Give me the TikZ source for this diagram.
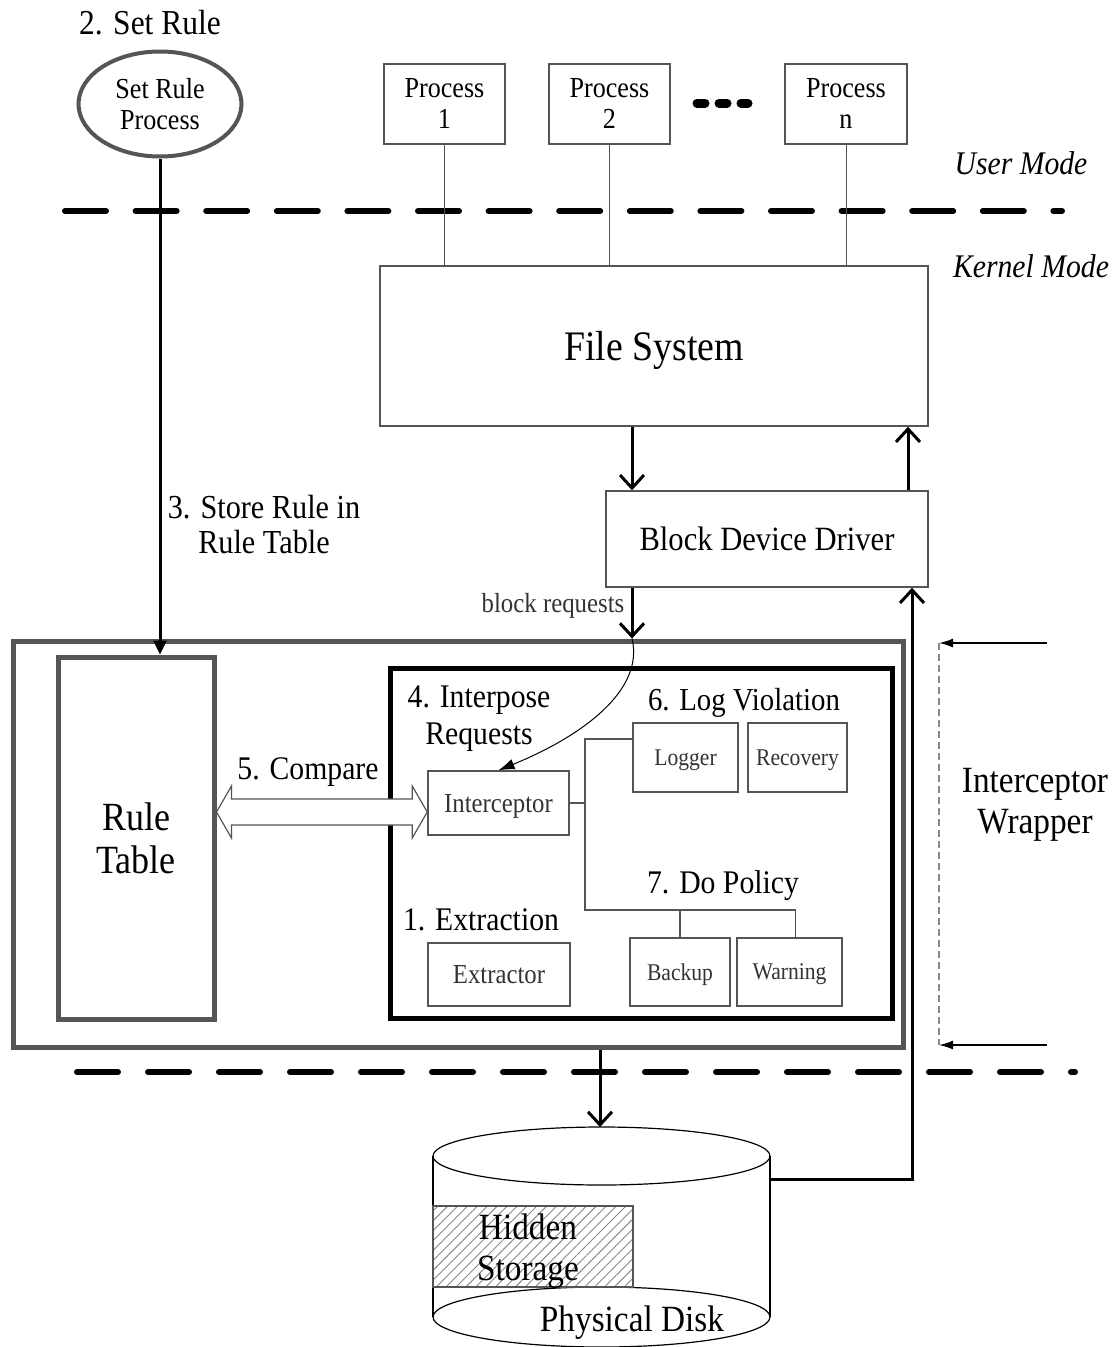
\documentclass[tikz,border=0pt]{standalone}
\usepackage{fontspec}
\setmainfont{Liberation Serif}[FakeStretch=0.9]
\usetikzlibrary{shapes.geometric,arrows.meta,patterns.meta,calc}
\newcommand\myfs[2]{\fontsize{#1}{#2}\selectfont}
\definecolor{boxc}{HTML}{555555}
\definecolor{txtc}{HTML}{333333}
\definecolor{hatchc}{HTML}{888888}
\begin{document}
\begin{tikzpicture}[x=1pt,y=-1pt,
  box/.style={draw=boxc, line width=1.5pt, inner sep=0pt, rectangle},
  onel/.style={text depth=0pt},
  lbl/.style={inner sep=0pt, align=center},
  thk/.style={line width=3pt},
  barb/.style={thk, -{Straight Barb[length=13pt,width=24pt]}},
  modeline/.style={line width=6pt, line cap=round},
  thin/.style={line width=1pt, draw=boxc}]
\useasboundingbox (0,0) rectangle (1115,1347);
\fill[white] (0,0) rectangle (1115,1347);

% helper coordinates
\coordinate (ax1) at (632,0);
\coordinate (ax2) at (908,0);
\coordinate (ax3) at (600,0);
\coordinate (ax4) at (912,0);
\coordinate (yc) at (0,812);

% mode lines
\coordinate (d1a) at (65,211);
\coordinate (d1b) at (1062,211);
\coordinate (d2a) at (77,1072);
\coordinate (d2b) at (1075,1072);
\draw[modeline, dash pattern=on 41pt off 29.6pt] (d1a) -- (d1b);
\draw[modeline, dash pattern=on 41pt off 30pt] (d2a) -- (d2b);

\node[lbl, font=\myfs{35}{38}] (t2) at (150,23) {2. Set Rule};
\node[ellipse, draw=boxc, line width=4pt, minimum width=163pt, minimum height=105pt, inner sep=0pt, align=center, font=\myfs{29}{31}] (srp) at (160,104) {Set Rule\\Process};

% processes
\node[box, minimum width=121pt, minimum height=80pt, align=center, font=\myfs{29}{31}] (p1) at (444.5,104) {Process\\1};
\node[box, minimum width=121pt, minimum height=80pt, align=center, font=\myfs{29}{31}] (p2) at (609.5,104) {Process\\2};
\node[box, minimum width=122pt, minimum height=80pt, align=center, font=\myfs{29}{31}] (pn) at (846,104) {Process\\n};
\coordinate (e1a) at (697,103); \coordinate (e1b) at (705,103);
\coordinate (e2a) at (719,103); \coordinate (e2b) at (727,103);
\coordinate (e3a) at (741,103); \coordinate (e3b) at (748,103);
\draw[line width=9pt, line cap=round] (e1a) -- (e1b) (e2a) -- (e2b) (e3a) -- (e3b);

\node[lbl, font=\myfs{33}{36}\itshape] (um) at (1021,163) {User Mode};
\node[lbl, font=\myfs{33}{36}\itshape] (km) at (1031,266) {Kernel Mode};

% file system and driver
\node[box, onel, minimum width=548pt, minimum height=160pt, font=\myfs{42}{46}] (fs) at (654,346) {File System};
\node[box, onel, minimum width=322pt, minimum height=96pt, font=\myfs{34}{38}] (bdd) at (767,539) {Block Device Driver};

\draw[thin] (p1.south) -- (p1.south |- fs.north);
\draw[thin] (p2.south) -- (p2.south |- fs.north);
\draw[thin] (pn.south) -- (pn.south |- fs.north);

\draw[barb] (fs.south -| ax1) -- (bdd.north -| ax1);
\draw[barb] (bdd.north -| ax2) -- (fs.south -| ax2);

% wrapper
\node[draw=boxc, line width=5pt, minimum width=890pt, minimum height=406pt, inner sep=0pt] (wrap) at (458,844) {};
\node[draw=boxc, line width=5pt, minimum width=156pt, minimum height=362pt, inner sep=0pt, align=center, font=\myfs{40}{43}] (rt) at (136,838) {Rule\\Table};
\node[draw=black, line width=5pt, minimum width=502pt, minimum height=350pt, inner sep=0pt] (inner) at (641,843) {};

\draw[barb] (bdd.south -| ax1) -- (wrap.north -| ax1);
\node[lbl, text=txtc, font=\myfs{27.6}{30}] (br) at (553,606) {block requests};

\node[lbl, font=\myfs{33.6}{35}] (t3) at (264,524) {3. Store Rule in\\Rule Table};
\draw[thk, -{Triangle[length=14pt,width=13pt]}] (srp.south) -- (srp.south |- rt.north);

% inner components
\node[box, onel, minimum width=141pt, minimum height=64pt, text=txtc, font=\myfs{27.5}{30}] (icp) at (498.5,803) {Interceptor};
\node[box, onel, minimum width=105pt, minimum height=69pt, text=txtc, font=\myfs{24}{26}] (lg) at (685.5,757.5) {Logger};
\node[box, onel, minimum width=99pt, minimum height=69pt, text=txtc, font=\myfs{24}{26}] (rc) at (797.5,757.5) {Recovery};
\node[box, onel, minimum width=142pt, minimum height=63pt, text=txtc, font=\myfs{27.5}{30}] (ex) at (499,974.5) {Extractor};
\node[box, onel, minimum width=100pt, minimum height=68pt, text=txtc, font=\myfs{24}{26}] (bk) at (680,972) {Backup};
\node[box, onel, minimum width=105pt, minimum height=68pt, text=txtc, font=\myfs{24}{26}] (wn) at (789.5,972) {Warning};

\node[lbl, font=\myfs{33}{37}] (t4) at (479,719) {4. Interpose\\Requests};
\node[lbl, font=\myfs{32}{35}] (t6) at (744,703) {6. Log Violation};
\node[lbl, font=\myfs{33}{36}] (t7) at (723,886) {7. Do Policy};
\node[lbl, font=\myfs{33}{36}] (t1) at (481,920) {1. Extraction};
\node[lbl, font=\myfs{33}{36}] (t5) at (308,772) {5. Compare};

\coordinate (jtop) at (585,739);
\coordinate (jbot) at (585,910);
\coordinate (wnc) at ([xshift=6pt]wn.north);
\draw[line width=1.5pt, draw=boxc] (icp.east) -- (icp.east -| jtop);
\draw[line width=1.5pt, draw=boxc] (lg.west |- jtop) -- (jtop) -- (jbot) -- (jbot -| wnc) -- (wnc);
\draw[line width=1.5pt, draw=boxc] (bk.north) -- (bk.north |- jbot);

% curved request arrow
\draw[line width=1pt, -{Latex[length=16pt,width=11pt]}] (wrap.north -| ax1) .. controls (645,692) and (578,738) .. (icp.north);

% double arrow compare
\coordinate (cl) at (rt.east |- yc);
\coordinate (cr) at (icp.west |- yc);
\draw[draw=boxc, line width=1.2pt, fill=white]
  (cl) -- ++(15,-26) -- ++(0,13) -- ($(cr)+(-15,-13)$) -- ++(0,-13) -- (cr)
  -- ++(-15,26) -- ++(0,-13) -- ($(cl)+(15,13)$) -- ++(0,13) -- cycle;

% interceptor wrapper marker
\coordinate (wa1) at (1047,643);
\coordinate (wt) at (939,643);
\coordinate (wb) at (939,1045);
\coordinate (wa2) at (1047,1045);
\draw[line width=1.2pt, draw=hatchc, dash pattern=on 7pt off 4pt] (wt) -- (wb);
\draw[line width=1.5pt, -{Latex[length=14pt,width=9pt]}] (wa1) -- (wt);
\draw[line width=1.5pt, -{Latex[length=14pt,width=9pt]}] (wa2) -- (wb);
\node[lbl, font=\myfs{37}{41}] (iw) at (1035,805) {Interceptor\\Wrapper};

% disk
\coordinate (dtop) at (600,1127);
\coordinate (dl1) at (433,1156); \coordinate (dl2) at (433,1317);
\coordinate (dr1) at (770,1156); \coordinate (dr2) at (770,1317);
\coordinate (dtc) at (601.5,1156);
\coordinate (dbc) at (601.5,1317);
\draw[line width=1.2pt] (dl1) -- (dl2) (dr1) -- (dr2);
\draw[line width=1.2pt] (dtc) ellipse [x radius=168.5pt, y radius=29pt];
\draw[line width=1.2pt] (dbc) ellipse [x radius=168.5pt, y radius=30pt];
\node[draw=boxc, line width=1.2pt, minimum width=200pt, minimum height=81pt, inner sep=0pt,
  pattern={Lines[angle=45, distance=7pt, line width=0.9pt]}, pattern color=hatchc] (hs) at (533,1246.5) {};
\node[lbl, font=\myfs{37}{41}] (hst) at (528,1251) {Hidden\\Storage};
\node[lbl, font=\myfs{37}{40}] (pd) at (632,1323) {Physical Disk};

\draw[barb] (wrap.south -| ax3) -- (dtop);
\coordinate (dret) at (770,1179);
\draw[barb] (dret) -| (bdd.south -| ax4);
\end{tikzpicture}
\end{document}
